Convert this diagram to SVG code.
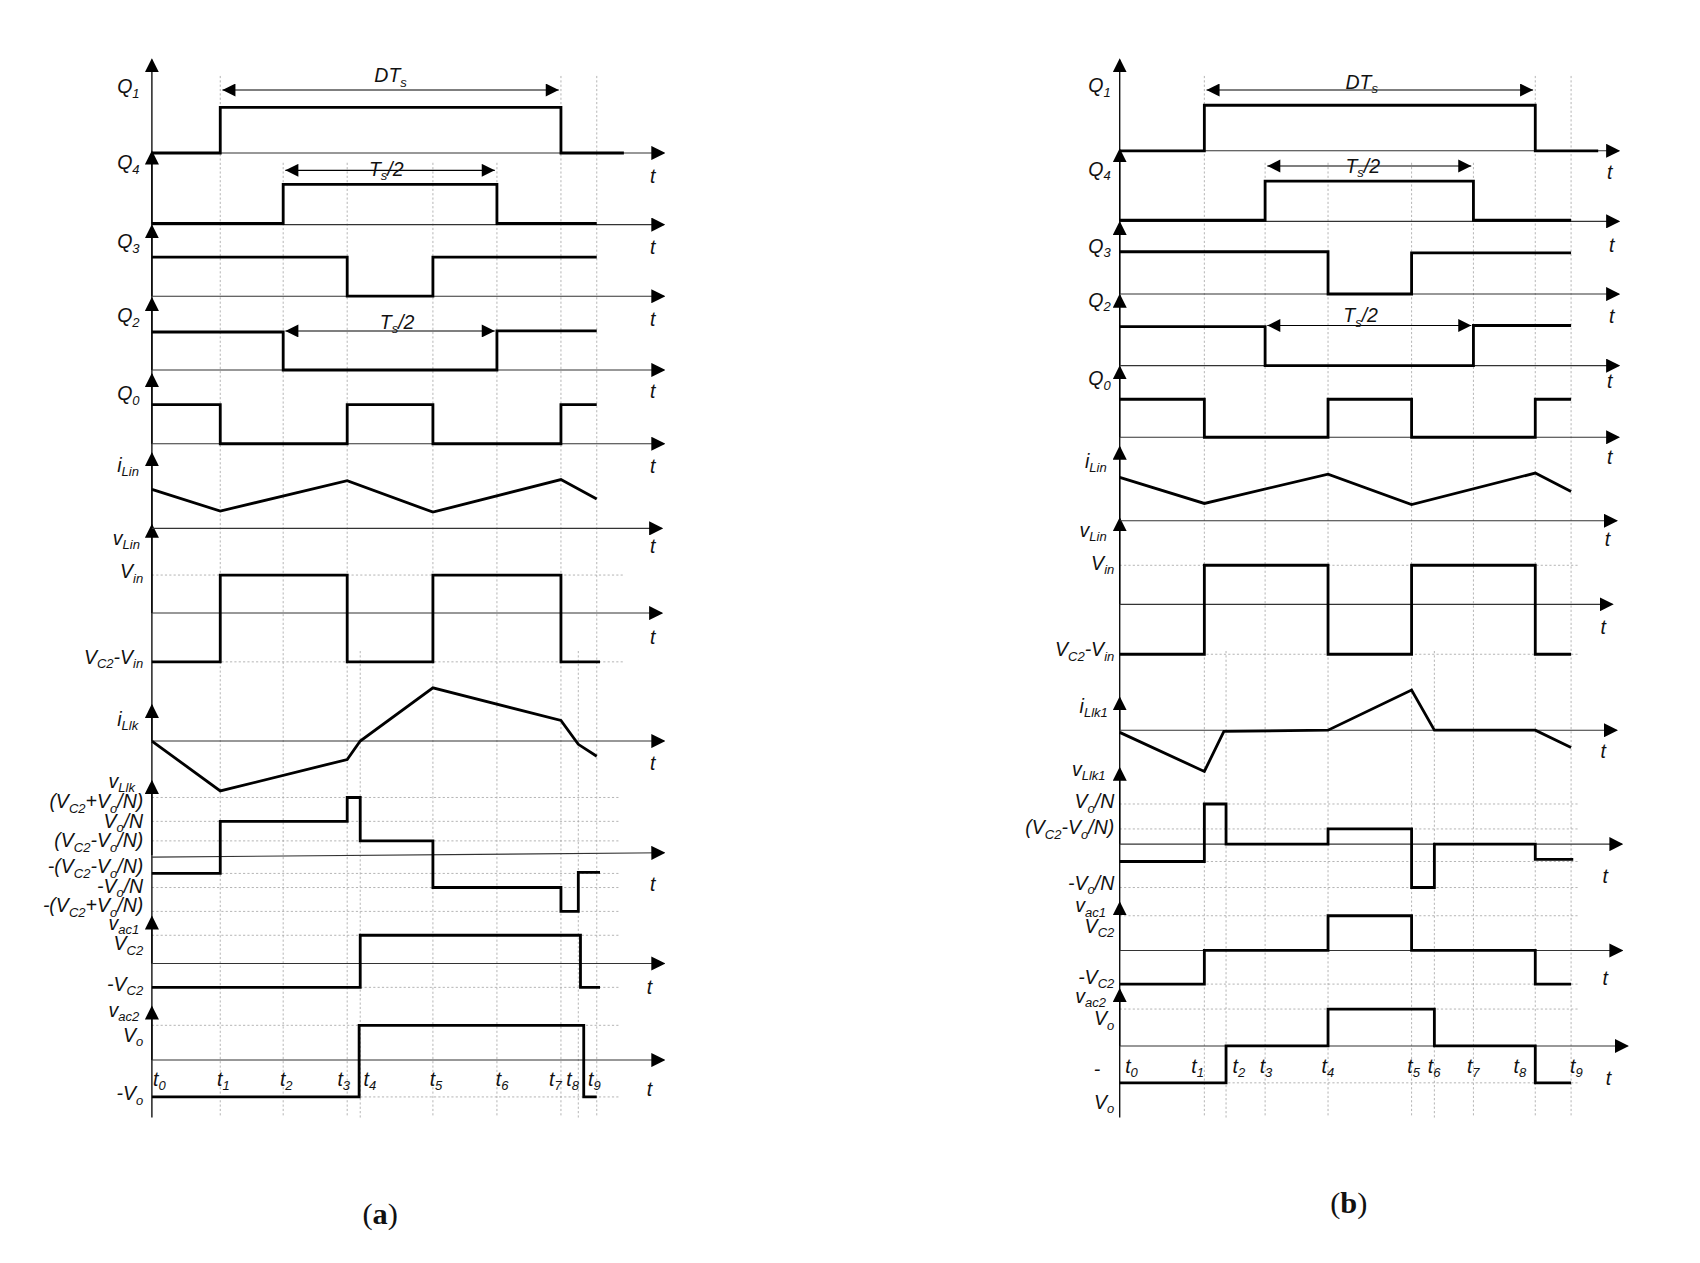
<svg xmlns="http://www.w3.org/2000/svg" width="1700" height="1263" viewBox="0 0 1700 1263">
<style>
.ax{stroke:#000;stroke-width:1.2;fill:none}
.hx{stroke:#333;stroke-width:1;fill:none}
.w{stroke:#000;stroke-width:2.6;fill:none;stroke-linejoin:miter}
.g{stroke:#aaa;stroke-width:0.8;stroke-dasharray:2 2;fill:none}
.dim{stroke:#000;stroke-width:1;fill:none}
text{font-family:"Liberation Sans","Open Sans",sans-serif;font-style:italic;font-size:18px;fill:#111}
.r{text-anchor:end}
.s{font-size:12px}
.cap{font-style:normal;font-family:"Liberation Serif",serif;font-size:28px}
</style>
<defs>
<marker id="ah" viewBox="0 0 10 10" refX="9" refY="5" markerWidth="13" markerHeight="13" markerUnits="userSpaceOnUse" orient="auto-start-reverse"><path d="M0,0L10,5L0,10z" fill="#000"/></marker>
<marker id="dh" viewBox="0 0 10 10" refX="10" refY="5" markerWidth="14" markerHeight="12" markerUnits="userSpaceOnUse" orient="auto-start-reverse"><path d="M0,0L10,5L0,10z" fill="#000"/></marker>
</defs>
<g transform="scale(1.085)">
<g id="grid">
<path class="g" d="M203 70V1030M261 150V1030M320 150V1030M332 600V1030M399 150V1030M458 150V1030M517 70V1030M533 600V1030M550 70V1030"/>
<path class="g" d="M140 530H575M140 610H575M140 735H572M140 757H572M140 775H572M140 805H572M140 818H572M140 840H572M140 862H572M140 910H572M140 945H572M140 1011H572"/>
<path class="g" d="M1110 70V1030M1130 600V1030M1166 150V1030M1224 150V1030M1301 150V1030M1322 600V1030M1358 150V1030M1415 70V1030M1448 70V1030"/>
<path class="g" d="M1032 521H1455M1032 603H1455M1032 741H1455M1032 764H1455M1032 794H1455M1032 818H1455M1032 844H1455M1032 907H1455M1032 930H1455M1032 998H1455"/>
</g>
<g id="axes">
<path class="ax" d="M140 1030V141"/>
<path class="ax" d="M140 141V55" marker-end="url(#ah)"/><path class="ax" d="M140 207V140" marker-end="url(#ah)"/><path class="ax" d="M140 273V208" marker-end="url(#ah)"/><path class="ax" d="M140 341V275" marker-end="url(#ah)"/><path class="ax" d="M140 409V345" marker-end="url(#ah)"/><path class="ax" d="M140 487V418" marker-end="url(#ah)"/><path class="ax" d="M140 565V484" marker-end="url(#ah)"/><path class="ax" d="M140 683V650" marker-end="url(#ah)"/><path class="ax" d="M140 788V720" marker-end="url(#ah)"/><path class="ax" d="M140 888V845" marker-end="url(#ah)"/><path class="ax" d="M140 977V928" marker-end="url(#ah)"/>
<path class="hx" d="M140 141H612" marker-end="url(#ah)"/><path class="hx" d="M140 207H612" marker-end="url(#ah)"/><path class="hx" d="M140 273H612" marker-end="url(#ah)"/><path class="hx" d="M140 341H612" marker-end="url(#ah)"/><path class="hx" d="M140 409H612" marker-end="url(#ah)"/><path class="hx" d="M140 487H610" marker-end="url(#ah)"/><path class="hx" d="M140 565H610" marker-end="url(#ah)"/><path class="hx" d="M140 683H612" marker-end="url(#ah)"/><path class="hx" d="M140 790L612 786" marker-end="url(#ah)"/><path class="hx" d="M140 888H612" marker-end="url(#ah)"/><path class="hx" d="M140 977H612" marker-end="url(#ah)"/>
<path class="ax" d="M1032 1030V139"/>
<path class="ax" d="M1032 139V55" marker-end="url(#ah)"/><path class="ax" d="M1032 204V138" marker-end="url(#ah)"/><path class="ax" d="M1032 271V205" marker-end="url(#ah)"/><path class="ax" d="M1032 337V272" marker-end="url(#ah)"/><path class="ax" d="M1032 403V338" marker-end="url(#ah)"/><path class="ax" d="M1032 480V412" marker-end="url(#ah)"/><path class="ax" d="M1032 557V478" marker-end="url(#ah)"/><path class="ax" d="M1032 673V643" marker-end="url(#ah)"/><path class="ax" d="M1032 778V708" marker-end="url(#ah)"/><path class="ax" d="M1032 876V832" marker-end="url(#ah)"/><path class="ax" d="M1032 964V912" marker-end="url(#ah)"/>
<path class="hx" d="M1032 139H1492" marker-end="url(#ah)"/><path class="hx" d="M1032 204H1492" marker-end="url(#ah)"/><path class="hx" d="M1032 271H1492" marker-end="url(#ah)"/><path class="hx" d="M1032 337H1492" marker-end="url(#ah)"/><path class="hx" d="M1032 403H1492" marker-end="url(#ah)"/><path class="hx" d="M1032 480H1490" marker-end="url(#ah)"/><path class="hx" d="M1032 557H1486" marker-end="url(#ah)"/><path class="hx" d="M1032 673H1490" marker-end="url(#ah)"/><path class="hx" d="M1032 778H1495" marker-end="url(#ah)"/><path class="hx" d="M1032 876H1495" marker-end="url(#ah)"/><path class="hx" d="M1032 964H1500" marker-end="url(#ah)"/>
</g>
<g id="connectors">
<path class="dim" d="M205 83H515" marker-start="url(#dh)" marker-end="url(#dh)"/>
<path class="dim" d="M263 157H456" marker-start="url(#dh)" marker-end="url(#dh)"/>
<path class="dim" d="M263 305H456" marker-start="url(#dh)" marker-end="url(#dh)"/>
<path class="dim" d="M1112 83H1413" marker-start="url(#dh)" marker-end="url(#dh)"/>
<path class="dim" d="M1168 153H1356" marker-start="url(#dh)" marker-end="url(#dh)"/>
<path class="dim" d="M1168 300H1356" marker-start="url(#dh)" marker-end="url(#dh)"/>
</g>
<g id="waves-a">
<path class="w" d="M140 141H203V99H517V141H575"/>
<path class="w" d="M140 206H261V170H458V206H550"/>
<path class="w" d="M140 237H320V273H399V237H550"/>
<path class="w" d="M140 306H261V341H458V305H550"/>
<path class="w" d="M140 373H203V409H320V373H399V409H517V373H550"/>
<path class="w" d="M140 451L203 471L320 443L399 472L517 442L550 460"/>
<path class="w" d="M140 610H203V530H320V610H399V530H517V610H553"/>
<path class="w" d="M140 683L203 729L320 700L332 683L399 634L517 664L533 686L550 697"/>
<path class="w" d="M140 805H203V757H320V735H332V775H399V818H517V840H533V804H553"/>
<path class="w" d="M140 910H332V862H535V910H553"/>
<path class="w" d="M140 1011H331V945H538V1011H550"/>
</g>
<g id="waves-b">
<path class="w" d="M1032 139H1110V97H1415V139H1473"/>
<path class="w" d="M1032 203H1166V167H1358V203H1448"/>
<path class="w" d="M1032 232H1224V271H1301V233H1448"/>
<path class="w" d="M1032 301H1166V337H1358V300H1448"/>
<path class="w" d="M1032 368H1110V403H1224V368H1301V403H1415V368H1448"/>
<path class="w" d="M1032 440L1110 464L1224 437L1301 465L1415 436L1448 453"/>
<path class="w" d="M1032 603H1110V521H1224V603H1301V521H1415V603H1448"/>
<path class="w" d="M1032 675L1110 711L1128 674L1224 673L1301 636L1322 673L1415 673L1448 689"/>
<path class="w" d="M1032 794H1110V741H1130V778H1224V764H1301V818H1322V778H1415V792H1450"/>
<path class="w" d="M1032 907H1110V876H1224V844H1301V876H1415V907H1448"/>
<path class="w" d="M1032 998H1130V964H1224V930H1322V964H1415V998H1448"/>
</g>
<g id="labels-a">
<text x="108" y="86">Q<tspan class="s" dy="4">1</tspan></text>
<text x="108" y="156">Q<tspan class="s" dy="4">4</tspan></text>
<text x="108" y="229">Q<tspan class="s" dy="4">3</tspan></text>
<text x="108" y="297">Q<tspan class="s" dy="4">2</tspan></text>
<text x="108" y="369">Q<tspan class="s" dy="4">0</tspan></text>
<text x="108" y="435">i<tspan class="s" dy="4">Lin</tspan></text>
<text x="104" y="502">v<tspan class="s" dy="4">Lin</tspan></text>
<text class="r" x="132" y="533">V<tspan class="s" dy="4">in</tspan></text>
<text class="r" x="132" y="612">V<tspan class="s" dy="4">C2</tspan><tspan dy="-4">-V</tspan><tspan class="s" dy="4">in</tspan></text>
<text x="108" y="669">i<tspan class="s" dy="4">Llk</tspan></text>
<text x="100" y="726">v<tspan class="s" dy="4">Llk</tspan></text>
<text class="r" x="132" y="745">(V<tspan class="s" dy="4">C2</tspan><tspan dy="-4">+V</tspan><tspan class="s" dy="4">o</tspan><tspan dy="-4">/N)</tspan></text>
<text class="r" x="132" y="763">V<tspan class="s" dy="4">o</tspan><tspan dy="-4">/N</tspan></text>
<text class="r" x="132" y="781">(V<tspan class="s" dy="4">C2</tspan><tspan dy="-4">-V</tspan><tspan class="s" dy="4">o</tspan><tspan dy="-4">/N)</tspan></text>
<text class="r" x="132" y="805">-(V<tspan class="s" dy="4">C2</tspan><tspan dy="-4">-V</tspan><tspan class="s" dy="4">o</tspan><tspan dy="-4">/N)</tspan></text>
<text class="r" x="132" y="823">-V<tspan class="s" dy="4">o</tspan><tspan dy="-4">/N</tspan></text>
<text class="r" x="132" y="841">-(V<tspan class="s" dy="4">C2</tspan><tspan dy="-4">+V</tspan><tspan class="s" dy="4">o</tspan><tspan dy="-4">/N)</tspan></text>
<text x="100" y="857">v<tspan class="s" dy="4">ac1</tspan></text>
<text class="r" x="132" y="876">V<tspan class="s" dy="4">C2</tspan></text>
<text class="r" x="132" y="913">-V<tspan class="s" dy="4">C2</tspan></text>
<text x="100" y="937">v<tspan class="s" dy="4">ac2</tspan></text>
<text class="r" x="132" y="960">V<tspan class="s" dy="4">o</tspan></text>
<text class="r" x="132" y="1014">-V<tspan class="s" dy="4">o</tspan></text>
<text x="345" y="76">DT<tspan class="s" dy="4">s</tspan></text>
<text x="340" y="162">T<tspan class="s" dy="4">s</tspan><tspan dy="-4">/2</tspan></text>
<text x="350" y="303">T<tspan class="s" dy="4">s</tspan><tspan dy="-4">/2</tspan></text>
<text x="599" y="169">t</text><text x="599" y="234">t</text><text x="599" y="300">t</text><text x="599" y="367">t</text><text x="599" y="436">t</text><text x="599" y="510">t</text><text x="599" y="594">t</text><text x="599" y="710">t</text><text x="599" y="821">t</text><text x="596" y="916">t</text><text x="596" y="1010">t</text>
<text x="141" y="1001">t<tspan class="s" dy="4">0</tspan></text><text x="200" y="1001">t<tspan class="s" dy="4">1</tspan></text><text x="258" y="1001">t<tspan class="s" dy="4">2</tspan></text><text x="311" y="1001">t<tspan class="s" dy="4">3</tspan></text><text x="335" y="1001">t<tspan class="s" dy="4">4</tspan></text><text x="396" y="1001">t<tspan class="s" dy="4">5</tspan></text><text x="457" y="1001">t<tspan class="s" dy="4">6</tspan></text><text x="506" y="1001">t<tspan class="s" dy="4">7</tspan></text><text x="522" y="1001">t<tspan class="s" dy="4">8</tspan></text><text x="542" y="1001">t<tspan class="s" dy="4">9</tspan></text>
<text class="cap" x="334" y="1128">(<tspan font-weight="bold">a</tspan>)</text>
</g>
<g id="labels-b">
<text x="1003" y="85">Q<tspan class="s" dy="4">1</tspan></text>
<text x="1003" y="162">Q<tspan class="s" dy="4">4</tspan></text>
<text x="1003" y="233">Q<tspan class="s" dy="4">3</tspan></text>
<text x="1003" y="283">Q<tspan class="s" dy="4">2</tspan></text>
<text x="1003" y="355">Q<tspan class="s" dy="4">0</tspan></text>
<text x="1000" y="431">i<tspan class="s" dy="4">Lin</tspan></text>
<text x="995" y="495">v<tspan class="s" dy="4">Lin</tspan></text>
<text class="r" x="1027" y="525">V<tspan class="s" dy="4">in</tspan></text>
<text class="r" x="1027" y="605">V<tspan class="s" dy="4">C2</tspan><tspan dy="-4">-V</tspan><tspan class="s" dy="4">in</tspan></text>
<text x="995" y="657">i<tspan class="s" dy="4">Llk1</tspan></text>
<text x="988" y="715">v<tspan class="s" dy="4">Llk1</tspan></text>
<text class="r" x="1027" y="745">V<tspan class="s" dy="4">o</tspan><tspan dy="-4">/N</tspan></text>
<text class="r" x="1027" y="769">(V<tspan class="s" dy="4">C2</tspan><tspan dy="-4">-V</tspan><tspan class="s" dy="4">o</tspan><tspan dy="-4">/N)</tspan></text>
<text class="r" x="1027" y="820">-V<tspan class="s" dy="4">o</tspan><tspan dy="-4">/N</tspan></text>
<text x="991" y="841">v<tspan class="s" dy="4">ac1</tspan></text>
<text class="r" x="1027" y="860">V<tspan class="s" dy="4">C2</tspan></text>
<text class="r" x="1027" y="907">-V<tspan class="s" dy="4">C2</tspan></text>
<text x="991" y="924">v<tspan class="s" dy="4">ac2</tspan></text>
<text class="r" x="1027" y="945">V<tspan class="s" dy="4">o</tspan></text>
<text x="1008" y="992">-</text>
<text class="r" x="1027" y="1022">V<tspan class="s" dy="4">o</tspan></text>
<text x="1240" y="82">DT<tspan class="s" dy="4">s</tspan></text>
<text x="1240" y="159">T<tspan class="s" dy="4">s</tspan><tspan dy="-4">/2</tspan></text>
<text x="1238" y="297">T<tspan class="s" dy="4">s</tspan><tspan dy="-4">/2</tspan></text>
<text x="1481" y="165">t</text><text x="1483" y="232">t</text><text x="1483" y="298">t</text><text x="1481" y="358">t</text><text x="1481" y="428">t</text><text x="1479" y="503">t</text><text x="1475" y="584">t</text><text x="1475" y="699">t</text><text x="1477" y="814">t</text><text x="1477" y="908">t</text><text x="1480" y="1000">t</text>
<text x="1037" y="989">t<tspan class="s" dy="4">0</tspan></text><text x="1098" y="989">t<tspan class="s" dy="4">1</tspan></text><text x="1136" y="989">t<tspan class="s" dy="4">2</tspan></text><text x="1161" y="989">t<tspan class="s" dy="4">3</tspan></text><text x="1218" y="989">t<tspan class="s" dy="4">4</tspan></text><text x="1297" y="989">t<tspan class="s" dy="4">5</tspan></text><text x="1316" y="989">t<tspan class="s" dy="4">6</tspan></text><text x="1352" y="989">t<tspan class="s" dy="4">7</tspan></text><text x="1395" y="989">t<tspan class="s" dy="4">8</tspan></text><text x="1447" y="989">t<tspan class="s" dy="4">9</tspan></text>
<text class="cap" x="1226" y="1118">(<tspan font-weight="bold">b</tspan>)</text>
</g>
</g>
</svg>
